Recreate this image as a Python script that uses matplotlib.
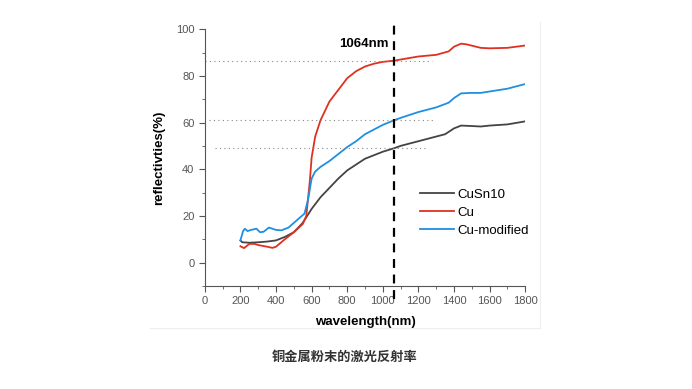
import matplotlib
matplotlib.use("Agg")
import matplotlib.pyplot as plt
from matplotlib.lines import Line2D
from matplotlib.ticker import MultipleLocator

plt.rcParams['font.family'] = ['Liberation Sans', 'DejaVu Sans']

# wavelength (nm) / reflectivity (%)
wl_cusn = [200, 210, 250, 300, 350, 400, 450, 500, 550, 600, 650, 700, 750, 800, 850, 900,
           950, 1000, 1064, 1100, 1200, 1300, 1350, 1400, 1440, 1500, 1550, 1600, 1700, 1800]
r_cusn = [9.5, 8.7, 8.5, 8.7, 9.0, 9.5, 11.0, 13.0, 17.0, 23.0, 28.0, 32.0, 36.0, 39.5, 42.0, 44.5,
          46.0, 47.5, 49.0, 50.0, 52.0, 54.0, 55.0, 57.5, 58.7, 58.5, 58.3, 58.7, 59.2, 60.5]

wl_cu = [200, 220, 250, 280, 300, 350, 380, 400, 450, 500, 550, 570, 590, 600, 620, 650, 700,
         750, 800, 850, 900, 950, 1000, 1064, 1100, 1200, 1300, 1370, 1400, 1440, 1470, 1550,
         1600, 1700, 1800]
r_cu = [7.0, 6.2, 8.0, 8.0, 7.5, 6.8, 6.3, 6.8, 10.0, 13.0, 16.5, 20.0, 35.0, 45.0, 54.0, 61.0, 69.0,
        74.0, 79.0, 82.0, 84.0, 85.2, 86.0, 86.5, 87.0, 88.3, 89.0, 90.5, 92.5, 93.8, 93.5, 92.0,
        91.8, 92.0, 93.0]

wl_mod = [200, 215, 225, 240, 260, 290, 310, 330, 360, 400, 430, 470, 500, 530, 560, 580, 600,
          620, 650, 700, 750, 800, 850, 900, 950, 1000, 1064, 1100, 1200, 1300, 1370, 1400, 1440,
          1500, 1550, 1600, 1700, 1800]
r_mod = [9.5, 13.5, 14.5, 13.5, 14.0, 14.5, 13.0, 13.2, 15.0, 14.0, 13.8, 15.0, 17.0, 19.0, 21.0, 27.0, 36.0,
         39.0, 41.0, 43.5, 46.5, 49.5, 52.0, 55.0, 57.0, 59.0, 61.0, 62.0, 64.5, 66.5, 68.5, 70.5, 72.5,
         72.7, 72.7, 73.3, 74.5, 76.5]

labels = ['CuSn10', 'Cu', 'Cu-modified']
colors = ['#444444', '#e0311f', '#1f8fe3']

laser_wl = 1064
guide_levels = [86.5, 61.0, 49.0]
guide_spans = [(0, 1275), (25, 1290), (55, 1255)]

fig = plt.figure(figsize=(6.92, 3.89), dpi=100)
ax = fig.add_axes([0.296, 0.265, 0.463, 0.66])

ax.plot(wl_cusn, r_cusn, color=colors[0], lw=1.3, label=labels[0])
ax.plot(wl_cu, r_cu, color=colors[1], lw=1.3, label=labels[1])
ax.plot(wl_mod, r_mod, color=colors[2], lw=1.3, label=labels[2])

for lev, (x0, x1) in zip(guide_levels, guide_spans):
    ax.plot([x0, x1], [lev, lev], color='#888888', lw=0.8, ls=(0, (1, 3)))

ax.plot([laser_wl, laser_wl], [-15.5, 104.5], color='black', lw=1.6, ls=(0, (4, 3)), clip_on=False)
ax.text(1035, 93.5, '1064nm', ha='right', va='center', fontsize=9.5, fontweight='bold')

ax.set_xlim(0, 1800)
ax.set_ylim(-10, 100)
ax.xaxis.set_major_locator(MultipleLocator(200))
ax.xaxis.set_minor_locator(MultipleLocator(100))
ax.yaxis.set_major_locator(MultipleLocator(20))
ax.yaxis.set_minor_locator(MultipleLocator(10))
for s in ['top', 'right']:
    ax.spines[s].set_visible(False)
for s in ['left', 'bottom']:
    ax.spines[s].set_color('#555555')
ax.tick_params(which='major', length=4, color='#555555', labelsize=8, labelcolor='#555555')
ax.tick_params(which='minor', length=2, color='#555555')
ax.set_xlabel('wavelength(nm)', fontsize=9.5, fontweight='bold', labelpad=7)
ax.set_ylabel('reflectivties(%)', fontsize=9.5, fontweight='bold', labelpad=8)

ax.legend(loc='upper left', bbox_to_anchor=(0.655, 0.40), frameon=False, fontsize=9.5,
          handlelength=2.6, handletextpad=0.2, labelspacing=0.45, borderaxespad=0)

# faint frame of the original picture
fig.add_artist(Line2D([540 / 692, 540 / 692], [1 - 22 / 389, 1 - 328 / 389], color='#eeeeee', lw=0.8))
fig.add_artist(Line2D([150 / 692, 540 / 692], [1 - 328 / 389, 1 - 328 / 389], color='#eeeeee', lw=0.8))

fig.text(345 / 692, 1 - 357 / 389, '铜金属粉末的激光反射率', ha='center', va='center', fontsize=9.5,
         fontweight='bold', family=['Noto Sans CJK SC', 'DejaVu Sans'], color='#333333')

fig.savefig('out.png', dpi=100)
